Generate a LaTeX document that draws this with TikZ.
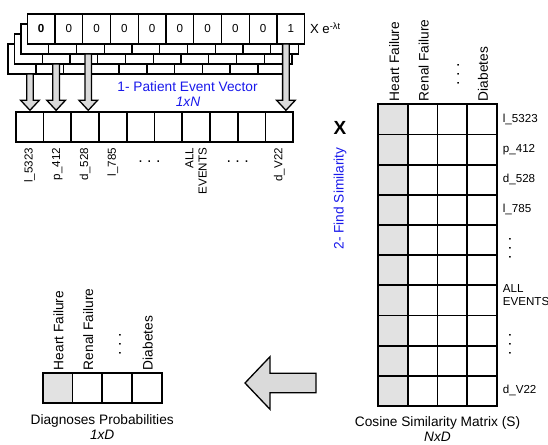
\documentclass[tikz,border=0pt]{standalone}
\usepackage{fontspec}
\setmainfont{Liberation Sans}
\usetikzlibrary{calc}

\definecolor{capblue}{RGB}{25,25,235}
\definecolor{cellgray}{RGB}{226,226,226}
\definecolor{arrowgray}{RGB}{218,218,218}

\newcommand\fsbig{\fontsize{13.7}{15.7}\selectfont}
\newcommand\fssmall{\fontsize{11.6}{13.2}\selectfont}
\newcommand\fsdots{\fontsize{16}{18}\selectfont}

\begin{document}
\begin{tikzpicture}[x=1pt,y=-1pt,
  vcell/.style={draw, fill=white, line width=1.3pt, minimum width=27.75pt,
    minimum height=30pt, inner sep=0pt, outer sep=0pt, anchor=north west, font=\fssmall},
  ecell/.style={vcell, line width=1.8pt},
  mcell/.style={draw, fill=white, line width=1.8pt, minimum width=29.6pt,
    minimum height=30.17pt, inner sep=0pt, outer sep=0pt, anchor=north west},
  dcell/.style={mcell, minimum width=29.75pt, minimum height=30pt},
  fatdown/.style={draw, line width=1.3pt, fill=arrowgray, line join=miter},
  lbl/.style={inner sep=0pt, font=\fssmall},
  hdr/.style={inner sep=0pt, font=\fsbig, rotate=90, anchor=west},
  dotlbl/.style={inner sep=0pt, font=\fsdots},
  captxt/.style={inner sep=0pt, font=\fsbig, anchor=base},
]
\useasboundingbox (0,0) rectangle (548,444);

% stacked event vectors (back layers first)
\foreach \k in {3,2,1} {
  \foreach \i in {1,...,10} {
    \node[vcell] (L\k-\i) at ({27.3-6.4*\k+27.75*(\i-1)}, {14+10*\k}) {};
  }
}
\foreach \i/\v in {1/\textbf{0},2/0,3/0,4/0,5/0,6/0,7/0,8/0,9/0,10/1}
  \node[vcell] (L0-\i) at ({27.3+27.75*(\i-1)}, 14) {\v};

\node[inner sep=0pt, anchor=base west, font=\fontsize{13.2}{15}\selectfont]
  (decay) at ($(L0-10.east)+(5,5)$) {X e\textsuperscript{-λt}};

% patient event vector
\foreach \i in {1,...,10}
  \node[ecell] (e\i) at ({15.7+27.75*(\i-1)}, 112.3) {};

\foreach \i/\t in {1/l\_5323, 2/p\_412, 3/d\_528, 4/l\_785, 10/d\_V22}
  \node[lbl, rotate=90, anchor=east] (el\i) at ($(e\i.south)+(0,5.5)$) {\t};
\node[lbl, rotate=90, anchor=east, align=right] (el7) at ($(e7.south)+(0,5.5)$) {ALL\\EVENTS};
\node[dotlbl] (edots1) at ($(e5.south east)+(-5,19.5)$) {.\ .\ .};
\node[dotlbl] (edots2) at ($(e8.south east)+(0,19.5)$) {.\ .\ .};

% arrows from the stacked vectors down to the event vector
\foreach \a/\src/\dx/\dst in {1/L3-1/8/e1, 2/L2-2/0/e2, 3/L1-3/-2/e3, 4/L0-10/-5/e10} {
  \coordinate (s\a) at ($(\src.south)+(\dx,0)$);
  \coordinate (t\a) at ($(s\a |- \dst.north)+(0,-2)$);
  \draw[fatdown] let \p1=(s\a), \p2=(t\a) in
    (\x1-3.3pt,\y1) -- (\x1+3.3pt,\y1) -- (\x1+3.3pt,\y2+10pt) -- (\x1+9.3pt,\y2+10pt)
    -- (\x1,\y2) -- (\x1-9.3pt,\y2+10pt) -- (\x1-3.3pt,\y2+10pt) -- cycle;
}

\node[captxt, text=capblue] (cap1) at (187.5,91.9) {1- Patient Event Vector};
\node[captxt, text=capblue, font=\fsbig\itshape] (dim1) at (188,106.6) {1xN};

% multiplication and similarity step
\node[inner sep=0pt, font=\fontsize{19}{20}\selectfont\bfseries] (times) at (340,128) {X};
\node[inner sep=0pt, font=\fsbig, text=capblue, rotate=90] (cap2) at (340,198.5) {2- Find Similarity};

% cosine similarity matrix
\foreach \r in {1,...,10} {
  \node[mcell, fill=cellgray] (m-\r-1) at (378.3, {104.3+30.17*(\r-1)}) {};
  \foreach \c in {2,3,4}
    \node[mcell] (m-\r-\c) at ({378.3+29.6*(\c-1)}, {104.3+30.17*(\r-1)}) {};
}
\foreach \c/\t in {1/Heart Failure, 2/Renal Failure, 4/Diabetes}
  \node[hdr] (mh\c) at ($(m-1-\c.north)+(1,-3)$) {\t};
\node[dotlbl, rotate=90] (mhdots) at ($(m-1-3.north)+(6,-30)$) {.\ .\ .};

\foreach \r/\t in {1/l\_5323, 2/p\_412, 3/d\_528, 4/l\_785, 10/d\_V22}
  \node[lbl, anchor=west] (rl\r) at ($(m-\r-4.east)+(6,0)$) {\t};
\node[lbl, anchor=west, align=left] (rl7) at ($(m-7-4.east)+(6,-5)$) {ALL\\EVENTS};
\node[dotlbl, rotate=90] (rdots1) at ($(m-5-4.south east)+(13.3,-7)$) {.\ .\ .};
\node[dotlbl, rotate=90] (rdots2) at ($(m-8-4.south east)+(13.3,-1.5)$) {.\ .\ .};

\node[captxt] (cap3) at (437.5,426.8) {Cosine Similarity Matrix (S)};
\node[captxt, font=\fsbig\itshape] (dim3) at (437.5,441.3) {NxD};

% arrow back to the diagnoses vector
\draw[fatdown] (245,383) -- (270,356.7) -- (270,373.3) -- (316,373.3)
  -- (316,392.7) -- (270,392.7) -- (270,409.3) -- cycle;

% diagnoses probabilities
\node[dcell, fill=cellgray] (d1) at (42.7,373.3) {};
\foreach \i in {2,3,4}
  \node[dcell] (d\i) at ({42.7+29.75*(\i-1)},373.3) {};
\foreach \i/\t in {1/Heart Failure, 2/Renal Failure, 4/Diabetes}
  \node[hdr] (dh\i) at ($(d\i.north)+(1,-3)$) {\t};
\node[dotlbl, rotate=90] (dhdots) at ($(d3.north)+(3,-28.8)$) {.\ .\ .};

\node[captxt] (cap4) at (102.2,424.2) {Diagnoses Probabilities};
\node[captxt, font=\fsbig\itshape] (dim4) at (102.2,439.9) {1xD};
\end{tikzpicture}
\end{document}
